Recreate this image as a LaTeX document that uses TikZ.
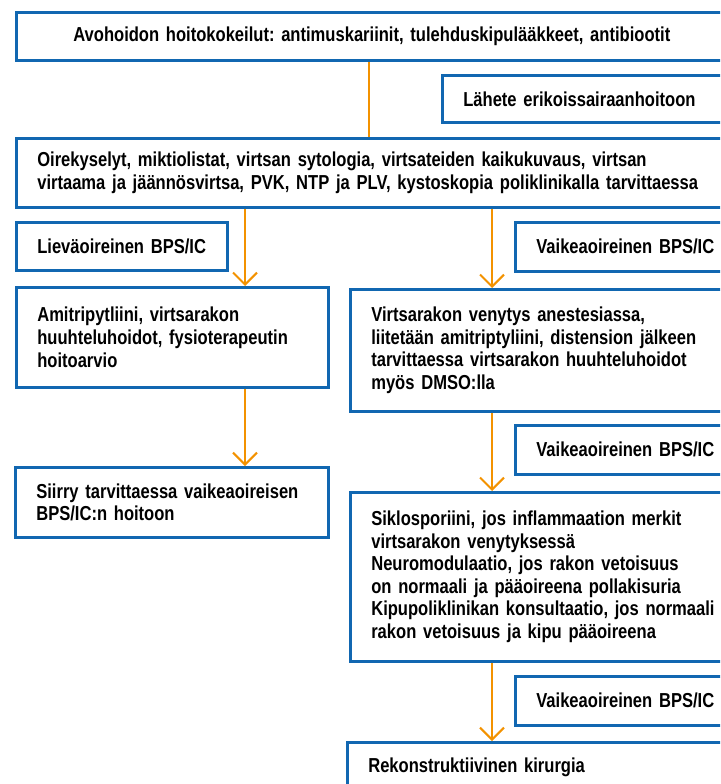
\documentclass[tikz,border=0pt]{standalone}
\usepackage{fontspec}
\setmainfont{Liberation Sans}[FakeStretch=0.82]
\usetikzlibrary{arrows.meta}
\definecolor{boxblue}{HTML}{1167B1}
\definecolor{arrorange}{HTML}{F39200}
\newcommand{\oneline}[1]{\mbox{#1}}
\begin{document}
\frenchspacing
\begin{tikzpicture}[x=1pt,y=-1pt,
  box/.style={draw=boxblue, line width=2.6pt, inner xsep=21pt, inner ysep=0pt,
    align=left, anchor=north west, font=\fontsize{20.2}{22.6}\selectfont\bfseries},
  conn/.style={draw=arrorange, line width=2pt},
  arr/.style={conn, -{Straight Barb[length=12pt,width=24pt,line width=2pt]}}]
\useasboundingbox (0,0) rectangle (720,784);
\clip (0,0) rectangle (720,784);
% boxes: text width = W - 42, minimum height = H
\node[box, text width=669pt, minimum height=48pt, align=center] (b1) at (15,11)
  {\oneline{Avohoidon hoitokokeilut: antimuskariinit, tulehduskipulääkkeet, antibiootit}};
\node[box, text width=243pt, minimum height=47pt] (ref) at (441,74)
  {\oneline{Lähete erikoissairaanhoitoon}};
\node[box, text width=669pt, minimum height=69pt] (b3) at (15,137)
  {\oneline{Oirekyselyt, miktiolistat, virtsan sytologia, virtsateiden kaikukuvaus, virtsan}\\
   \oneline{virtaama ja jäännösvirtsa, PVK, NTP ja PLV, kystoskopia poliklinikalla tarvittaessa}};
\node[box, text width=169pt, minimum height=48pt] (mild) at (15,221)
  {\oneline{Lieväoireinen BPS/IC}};
\node[box, text width=170pt, minimum height=49pt] (sev1) at (514,221)
  {\oneline{Vaikeaoireinen BPS/IC}};
\node[box, text width=270pt, minimum height=100pt] (amit) at (15,286)
  {\oneline{Amitripytliini, virtsarakon}\\ \oneline{huuhteluhoidot, fysioterapeutin}\\ \oneline{hoitoarvio}};
\node[box, text width=335pt, minimum height=122pt] (virt) at (349,288)
  {\oneline{Virtsarakon venytys anestesiassa,}\\ \oneline{liitetään amitriptyliini, distension jälkeen}\\
   \oneline{tarvittaessa virtsarakon huuhteluhoidot}\\ \oneline{myös DMSO:lla}};
\node[box, text width=170pt, minimum height=49pt] (sev2) at (514,424)
  {\oneline{Vaikeaoireinen BPS/IC}};
\node[box, text width=271pt, minimum height=70pt] (siir) at (14,466)
  {\oneline{Siirry tarvittaessa vaikeaoireisen}\\ \oneline{BPS/IC:n hoitoon}};
\node[box, text width=335pt, minimum height=169pt] (sikl) at (349,491)
  {\oneline{Siklosporiini, jos inflammaation merkit}\\ \oneline{virtsarakon venytyksessä}\\
   \oneline{Neuromodulaatio, jos rakon vetoisuus}\\ \oneline{on normaali ja pääoireena pollakisuria}\\
   \oneline{Kipupoliklinikan konsultaatio, jos normaali}\\ \oneline{rakon vetoisuus ja kipu pääoireena}};
\node[box, text width=170pt, minimum height=49pt] (sev3) at (514,675)
  {\oneline{Vaikeaoireinen BPS/IC}};
\node[box, text width=338pt, minimum height=50pt] (rek) at (346,741)
  {\oneline{Rekonstruktiivinen kirurgia}};
% connector columns
\coordinate (cM) at (369,0);
\coordinate (cL) at (245,0);
\coordinate (cR) at (492,0);
\draw[conn] (b1.south -| cM) -- (b3.north -| cM);
\draw[arr] (b3.south -| cL) -- (amit.north -| cL);
\draw[arr] (amit.south -| cL) -- (siir.north -| cL);
\draw[arr] (b3.south -| cR) -- (virt.north -| cR);
\draw[arr] (virt.south -| cR) -- (sikl.north -| cR);
\draw[arr] (sikl.south -| cR) -- (rek.north -| cR);
\end{tikzpicture}
\end{document}
